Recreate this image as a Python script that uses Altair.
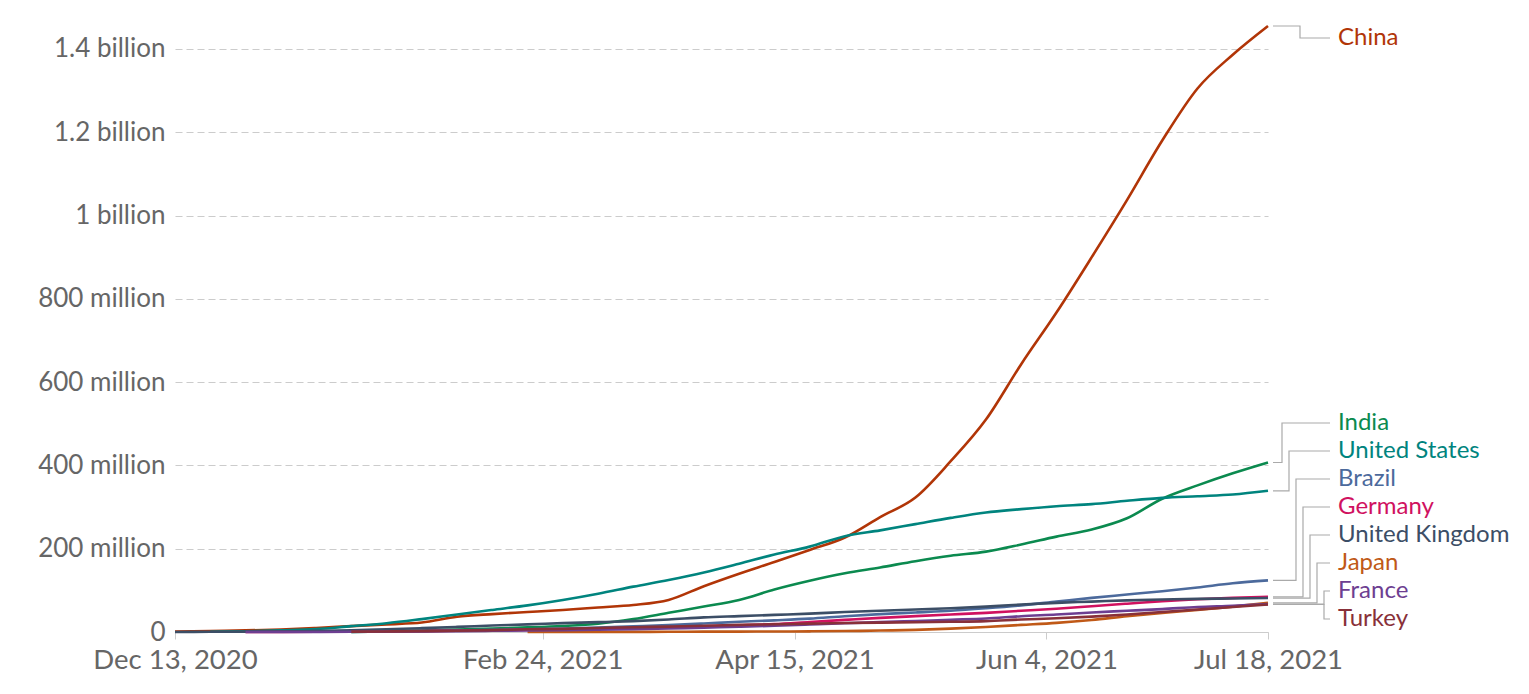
import altair as alt
import pandas as pd

# Weekly dates (Dec 13, 2020 .. Jul 18, 2021)
dates = [
    "2020-12-13", "2020-12-20", "2020-12-27", "2021-01-03", "2021-01-10", "2021-01-17",
    "2021-01-24", "2021-01-31", "2021-02-07", "2021-02-14", "2021-02-21", "2021-02-28",
    "2021-03-07", "2021-03-14", "2021-03-21", "2021-03-28", "2021-04-04", "2021-04-11",
    "2021-04-18", "2021-04-25", "2021-05-02", "2021-05-09", "2021-05-16", "2021-05-23",
    "2021-05-30", "2021-06-06", "2021-06-13", "2021-06-20", "2021-06-27", "2021-07-04",
    "2021-07-11", "2021-07-18",
]

# Cumulative doses, millions
china = [1.0, 2.4, 3.8, 6.0, 9.6, 14, 18.4, 22.8, 36.6, 43, 48, 53, 59, 65, 77, 110,
         140, 168, 197, 227, 276, 323, 410, 510, 643, 767, 900, 1037, 1180, 1305, 1386, 1455]
india = [None, None, None, None, None, 0.2, 1.6, 3.7, 5.8, 8.3, 11, 14.5, 20, 31, 46, 61,
         77, 102, 123, 141, 155, 170, 183, 193, 210, 229, 246, 273, 320, 352, 381, 407]
united_states = [None, 0.6, 1.9, 4.2, 7, 14, 21, 31, 42, 53, 64, 77, 92, 109, 125, 143,
                 164, 186, 205, 230, 244, 259, 274, 287, 295, 302, 307, 315, 322, 326, 330, 339]
brazil = [None, None, None, None, None, 0.1, 1.1, 2.1, 3.6, 5.2, 6.3, 8.2, 10.6, 13.4, 16.5, 20.4,
          24.5, 28, 32, 38, 43, 47, 51, 57, 64, 73, 82, 90, 98, 107, 117, 124]
germany = [None, None, 0.1, 0.3, 0.7, 1.2, 1.7, 2.4, 3, 4, 5, 6, 7.5, 9.5, 11.5, 13.5,
           16, 19, 24, 29, 34, 38, 42, 46, 51, 56, 62, 68, 74, 78.5, 82, 84.5]
united_kingdom = [0.1, 0.6, 0.9, 1.3, 2.6, 4.2, 6.5, 9.2, 12.3, 15.6, 18.3, 21.3, 23.6, 26, 30, 35,
                  38, 41, 44, 48, 51, 54, 57, 61, 66, 70, 73, 76, 78, 79.5, 80.5, 81.5]
japan = [None, None, None, None, None, None, None, None, None, None, 0.02, 0.05, 0.1, 0.2, 0.45, 0.8,
         1.0, 1.2, 1.6, 2.3, 3.5, 5, 8, 12, 17, 22, 29, 38, 46, 53, 61, 70]
france = [None, None, 0.0, 0.0, 0.1, 0.5, 1.0, 1.6, 2.1, 2.9, 3.6, 4.2, 5.3, 6.6, 8.5, 10.5,
          12.5, 15, 18, 21, 23.7, 26.4, 29.4, 32.3, 38, 42, 47, 51, 55, 60, 63, 67]
turkey = [None, None, None, None, None, 0.9, 1.3, 2.0, 2.9, 4.4, 6.5, 7.6, 9.6, 11.5, 13, 14.9,
          17, 18.5, 20, 21.5, 22.5, 23.5, 24.5, 26, 30, 33, 37, 42, 48, 54, 60, 66]

countries = ["China", "India", "United States", "Brazil", "Germany",
             "United Kingdom", "Japan", "France", "Turkey"]
colors = ["#B13507", "#0B8A4F", "#00847E", "#4C6A9C", "#D0115F",
          "#3C4E66", "#C05917", "#6D3E91", "#883039"]
series = [china, india, united_states, brazil, germany, united_kingdom, japan, france, turkey]

y_ticks = [0, 200, 400, 600, 800, 1000, 1200, 1400]

# ---- layout constants ----
W, H = 1093, 606
FONT = "Lato"
YMAX = max(china)
PX = YMAX / H  # data units per pixel

rows = []
for name, vals in zip(countries, series):
    for d, v in zip(dates, vals):
        if v is not None:
            rows.append({"country": name, "date": d, "v": v})
df = pd.DataFrame(rows)

# ---- label placement (cluster dodge) ----
ends = [vals[-1] for vals in series]
order = sorted(range(len(countries)), key=lambda i: -ends[i])
targets = [ends[i] for i in order]
gap = 28 * PX
lo = 13 * PX
hi = YMAX - 12 * PX


def cluster_top(cl):
    n = len(cl)
    mean = sum(targets[i] for i in cl) / n
    top = min(mean + gap * (n - 1) / 2, hi)
    if top - gap * (n - 1) < lo:
        top = lo + gap * (n - 1)
    return top


clusters = [[i] for i in range(len(targets))]
changed = True
while changed:
    changed = False
    for k in range(len(clusters) - 1):
        a, b = clusters[k], clusters[k + 1]
        bottom_a = cluster_top(a) - gap * (len(a) - 1)
        if bottom_a - cluster_top(b) < gap - 1e-9:
            clusters[k] = a + b
            del clusters[k + 1]
            changed = True
            break

pos = {}
for cl in clusters:
    top = cluster_top(cl)
    for j, i in enumerate(cl):
        pos[order[i]] = top - gap * j

label_df = pd.DataFrame({"country": countries, "v": [pos[i] for i in range(len(countries))]})

# connector knees (pixel offsets to the right of the plot)
knee = {}
rank = 0
for i in order:
    if countries[i] == "China":
        knee[i] = 32
    else:
        knee[i] = 14 + 7 * min(rank, 6)
        rank += 1

conn_rows = []
for i, name in enumerate(countries):
    pts = [(W + 5, ends[i]), (W + knee[i], ends[i]), (W + knee[i], pos[i]), (W + 62, pos[i])]
    for k, (px, v) in enumerate(pts):
        conn_rows.append({"country": name, "k": k, "px": px, "v": v})
conn_df = pd.DataFrame(conn_rows)

yscale = alt.Scale(domain=[0, YMAX], nice=False, zero=True)
yaxis = alt.Axis(
    values=y_ticks,
    labelExpr="datum.value == 0 ? '0' : datum.value >= 1000 ? format(datum.value / 1000, '.1~f') + ' billion' : format(datum.value, 'd') + ' million'",
    grid=True, gridDash=[7, 4], gridColor="#cccccc", gridWidth=1.2,
    domain=False, ticks=False,
    labelFont=FONT, labelFontSize=26, labelColor="#666666", labelPadding=10,
    title=None, minExtent=150, maxExtent=150,
)
cscale = alt.Scale(domain=countries, range=colors)

x_vals = [
    alt.DateTime(year=2020, month=12, date=13, utc=True),
    alt.DateTime(year=2021, month=2, date=24, utc=True),
    alt.DateTime(year=2021, month=4, date=15, utc=True),
    alt.DateTime(year=2021, month=6, date=4, utc=True),
    alt.DateTime(year=2021, month=7, date=18, utc=True),
]

lines = alt.Chart(df).mark_line(strokeWidth=2.6, interpolate="monotone").encode(
    x=alt.X("date:T",
            scale=alt.Scale(type="utc", domain=[x_vals[0], x_vals[-1]]),
            axis=alt.Axis(values=x_vals, format="%b %-d, %Y", grid=False,
                          domain=True, domainColor="#cccccc", ticks=True, tickColor="#cccccc",
                          tickSize=7, labelFont=FONT, labelFontSize=27.5, labelColor="#666666",
                          labelPadding=7, labelFlush=False, labelOverlap=False, title=None)),
    y=alt.Y("v:Q", scale=yscale, axis=yaxis),
    color=alt.Color("country:N", scale=cscale, legend=None),
)

labels = alt.Chart(label_df).mark_text(
    align="left", baseline="middle", font=FONT, fontSize=24
).encode(
    x=alt.value(W + 70),
    y=alt.Y("v:Q", scale=yscale, axis=yaxis),
    text="country:N",
    color=alt.Color("country:N", scale=cscale, legend=None),
)

connectors = alt.Chart(conn_df).mark_line(strokeWidth=1.2, color="#aaaaaa").encode(
    x=alt.X("px:Q", scale=None, axis=None),
    y=alt.Y("v:Q", scale=yscale, axis=yaxis),
    detail="country:N",
    order="k:Q",
)

chart = alt.layer(connectors, lines, labels).resolve_scale(
    x="independent", color="shared"
).properties(
    width=W, height=H,
    padding={"left": 17, "top": 12, "right": 5, "bottom": 5},
    background="white",
).configure_view(stroke=None)

chart.save("out.html", embed_options={"renderer": "svg", "actions": False})
